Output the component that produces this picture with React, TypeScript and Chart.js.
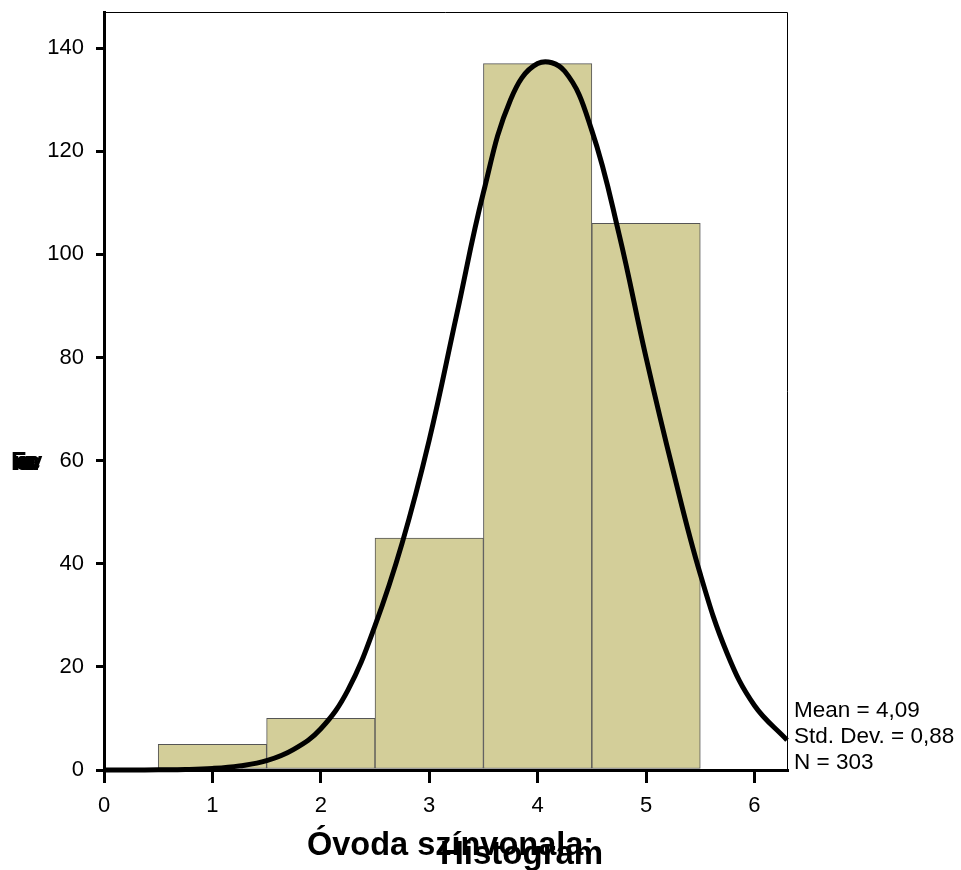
import React, { useEffect, useRef } from "react";
import { Chart, registerables } from "chart.js";

Chart.register(...registerables);

// Histogram bins (bin centers) and counts
const binCenters = [1, 2, 3, 4, 5];
const binCounts = [5, 10, 45, 137, 106];

// Normal curve
const curveX = [0, 0.25, 0.5, 0.75, 1, 1.25, 1.5, 1.75, 2, 2.25, 2.5, 2.75, 3, 3.25, 3.5, 3.75, 4, 4.25, 4.5, 4.75, 5, 5.25, 5.5, 5.75, 6, 6.3];
const curveY = [0, 0, 0.05, 0.1, 0.3, 0.8, 1.8, 4, 8, 15.5, 28, 44, 64, 88, 112, 130, 137, 135.5, 124, 104, 80, 58, 38, 22.5, 12.5, 5.8];

const xTicks = [0, 1, 2, 3, 4, 5, 6];
const yTicks = [0, 20, 40, 60, 80, 100, 120, 140];

const statLines = ["Mean = 4,09", "Std. Dev. = 0,88", "N = 303"];
const xTitle = "Óvoda színvonala:";
const chartTitle = "Histogram";
const yTitle = "Frequency";

const FONT = "'Liberation Sans', Arial, sans-serif";

export default function App() {
  const ref = useRef<HTMLCanvasElement | null>(null);

  useEffect(() => {
    const canvas = ref.current;
    if (!canvas) return;

    const textPlugin = {
      id: "textPlugin",
      afterDraw(chart: any) {
        const ctx = chart.ctx;
        const a = chart.chartArea;
        ctx.save();
        // top and right frame
        ctx.strokeStyle = "#000";
        ctx.lineWidth = 1;
        ctx.beginPath();
        ctx.moveTo(a.left, a.top + 0.5);
        ctx.lineTo(a.right + 0.5, a.top + 0.5);
        ctx.lineTo(a.right + 0.5, a.bottom);
        ctx.stroke();

        // stats text
        ctx.fillStyle = "#000";
        ctx.font = `22.5px ${FONT}`;
        ctx.textAlign = "left";
        ctx.textBaseline = "alphabetic";
        const baselines = [717, 743, 769];
        statLines.forEach((s, i) => ctx.fillText(s, a.right + 7, baselines[i]));

        // x title and chart title (overlapping, as in reference)
        ctx.font = `bold 32.5px ${FONT}`;
        ctx.fillText(xTitle, 307, 855);
        ctx.font = `bold 33px ${FONT}`;
        ctx.fillText(chartTitle, 440, 864);

        // y title rendered as overlapping glyphs
        ctx.beginPath();
        ctx.rect(0, 440, 60, 30);
        ctx.clip();
        ctx.font = `bold 25px ${FONT}`;
        yTitle.split("").forEach((c, i) => ctx.fillText(c, 11 + i * 2.2, 470));
        ctx.restore();
      },
    };

    const chart = new Chart(canvas, {
      type: "bar",
      data: {
        datasets: [
          {
            type: "line",
            data: curveX.map((x, i) => ({ x, y: curveY[i] })),
            borderColor: "#000",
            borderWidth: 5,
            pointRadius: 0,
            tension: 0.4,
            fill: false,
            order: 0,
            clip: false,
          } as any,
          {
            type: "bar",
            data: binCenters.map((x, i) => ({ x, y: binCounts[i] })),
            backgroundColor: "#D3CE99",
            borderColor: "#555555",
            borderWidth: 1,
            borderSkipped: false,
            barPercentage: 1,
            categoryPercentage: 1,
            order: 1,
          } as any,
        ],
      },
      options: {
        responsive: false,
        animation: false,
        layout: { padding: { top: 12, right: 174, left: 0, bottom: 0 } },
        plugins: { legend: { display: false }, tooltip: { enabled: false }, title: { display: false } },
        scales: {
          x: {
            type: "linear",
            min: 0,
            max: 6.3,
            offset: false,
            afterFit(scale: any) {
              scale.height = 100;
              scale.paddingLeft = 0;
              scale.paddingRight = 0;
            },
            afterBuildTicks(scale: any) {
              scale.ticks = xTicks.map((v) => ({ value: v }));
            },
            ticks: { color: "#000", font: { size: 22, family: FONT }, padding: 10, maxRotation: 0, includeBounds: false },
            grid: { offset: false, drawOnChartArea: false, drawTicks: true, tickLength: 13, color: "#000", lineWidth: 3 },
            border: { display: true, color: "#000", width: 3 },
          },
          y: {
            type: "linear",
            min: 0,
            max: 147,
            afterFit(scale: any) {
              scale.width = 104;
              scale.paddingTop = 0;
              scale.paddingBottom = 0;
            },
            afterBuildTicks(scale: any) {
              scale.ticks = yTicks.map((v) => ({ value: v }));
            },
            ticks: { color: "#000", font: { size: 22, family: FONT }, padding: 12, includeBounds: false },
            grid: { drawOnChartArea: false, drawTicks: true, tickLength: 8, color: "#000", lineWidth: 3 },
            border: { display: true, color: "#000", width: 3 },
          },
        },
      },
      plugins: [textPlugin],
    } as any);

    return () => chart.destroy();
  }, []);

  return (
    <div style={{ position: "fixed", left: 0, top: 0, width: 961, height: 870, background: "#fff" }}>
      <canvas ref={ref} width={961} height={870} style={{ display: "block" }} />
    </div>
  );
}
